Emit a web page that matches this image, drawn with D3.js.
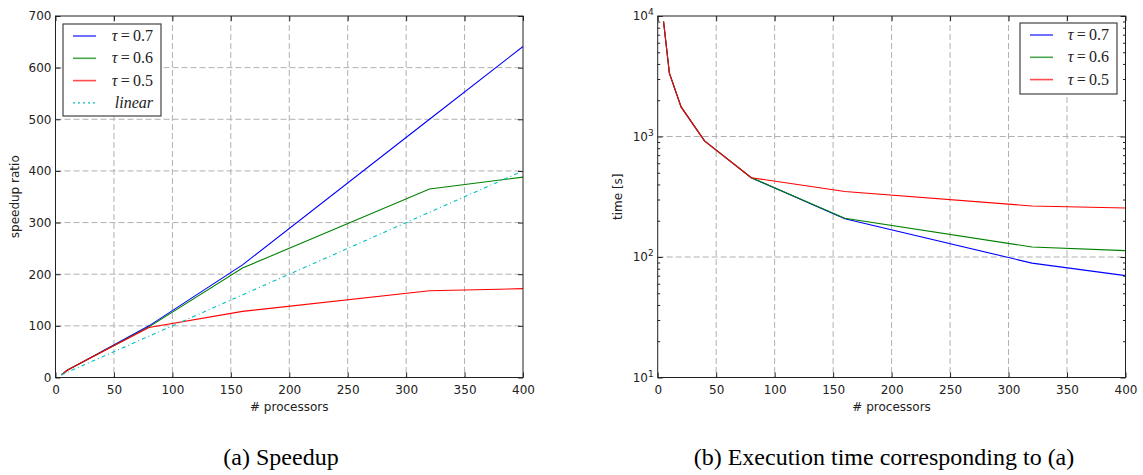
<!DOCTYPE html>
<html>
<head>
<meta charset="utf-8">
<script src="https://cdn.jsdelivr.net/npm/d3@7"></script>
<style>
  body { margin: 0; background: #fff; }
  svg { display: block; }
  .tick text { font-family: "DejaVu Sans", sans-serif; font-size: 12px; fill: #222; }
  .tick line { stroke: #222; }
  .domain { display: none; }
</style>
</head>
<body>
<div id="chart"></div>
<script>
// processor counts used in the runs
const procs = [5, 10, 20, 40, 80, 160, 320, 400];

// (a) speedup ratio per tau
const speedup07 = [5, 14, 26, 51, 100, 218, 500, 641];
const speedup06 = [5, 14, 26, 50, 98, 212, 365, 388];
const speedup05 = [5, 14, 26, 50, 97, 128, 168, 172];
const linearProcs = [5, 400];

// (b) execution time [s] per tau
const time07 = [9000, 3350, 1760, 920, 455, 208, 89, 70];
const time06 = [9000, 3350, 1760, 920, 455, 210, 121, 113];
const time05 = [9000, 3350, 1760, 920, 455, 350, 265, 255];

const xTicks = [0, 50, 100, 150, 200, 250, 300, 350, 400];
const speedTicks = [0, 100, 200, 300, 400, 500, 600, 700];
const timeTicks = [10, 100, 1000, 10000];

const series = [
  { label: 'τ', val: '0.7', color: '#0000ff', speed: speedup07, time: time07 },
  { label: 'τ', val: '0.6', color: '#008000', speed: speedup06, time: time06 },
  { label: 'τ', val: '0.5', color: '#ff0000', speed: speedup05, time: time05 }
];

const W = 1143, H = 475;
const plotTop = 16, plotBottom = 377.5;

const svg = d3.select('#chart').append('svg')
  .attr('width', W)
  .attr('height', H);

svg.append('rect').attr('width', W).attr('height', H).attr('fill', '#fff');

/**
 * Draw one panel: grid, lines, inward ticks on all four sides, frame
 */
function drawPanel(opts) {
  const { x, y, yTicks, minor, logFmt } = opts;
  const [x0, x1] = x.range();
  const g = svg.append('g');

  // grid
  g.append('g').selectAll('line')
    .data(xTicks.filter(t => t > 0 && t < 400))
    .join('line')
    .attr('x1', d => x(d)).attr('x2', d => x(d))
    .attr('y1', plotTop).attr('y2', plotBottom)
    .attr('stroke', '#b0b0b0').attr('stroke-dasharray', '6,3');
  g.append('g').selectAll('line')
    .data(yTicks.slice(1, -1))
    .join('line')
    .attr('x1', x0).attr('x2', x1)
    .attr('y1', d => y(d)).attr('y2', d => y(d))
    .attr('stroke', '#b0b0b0').attr('stroke-dasharray', '6,3');

  // lines
  const line = d3.line().x(d => x(d[0])).y(d => y(d[1]));
  opts.lines.forEach(l => {
    g.append('path')
      .attr('d', line(l.pts))
      .attr('fill', 'none')
      .attr('stroke', l.color)
      .attr('stroke-width', 1.1)
      .attr('stroke-dasharray', l.dash || null);
  });

  // axes with inward ticks
  g.append('g').attr('transform', `translate(0,${plotBottom})`)
    .call(d3.axisBottom(x).tickValues(xTicks).tickSizeInner(-5).tickSizeOuter(0).tickPadding(8));
  g.append('g').attr('transform', `translate(0,${plotTop})`)
    .call(d3.axisTop(x).tickValues(xTicks).tickSizeInner(-5).tickSizeOuter(0).tickFormat(''));

  const yl = g.append('g').attr('transform', `translate(${x0},0)`)
    .call(d3.axisLeft(y).tickValues(yTicks).tickSizeInner(-5).tickSizeOuter(0).tickPadding(4)
      .tickFormat(logFmt ? () => '' : d3.format('d')));
  g.append('g').attr('transform', `translate(${x1},0)`)
    .call(d3.axisRight(y).tickValues(yTicks).tickSizeInner(-5).tickSizeOuter(0).tickFormat(''));

  if (logFmt) {
    yl.selectAll('.tick text').each(function(d) {
      const t = d3.select(this).text('10');
      t.append('tspan').attr('dy', '-0.55em').style('font-size', '9px').text(Math.round(Math.log10(d)));
    });
  }

  if (minor) {
    g.append('g').attr('transform', `translate(${x0},0)`)
      .call(d3.axisLeft(y).tickValues(minor).tickSizeInner(-2.5).tickSizeOuter(0).tickFormat(''));
    g.append('g').attr('transform', `translate(${x1},0)`)
      .call(d3.axisRight(y).tickValues(minor).tickSizeInner(-2.5).tickSizeOuter(0).tickFormat(''));
  }

  // frame
  g.append('rect')
    .attr('x', x0).attr('y', plotTop)
    .attr('width', x1 - x0).attr('height', plotBottom - plotTop)
    .attr('fill', 'none').attr('stroke', '#222').attr('stroke-width', 1);

  // axis labels
  g.append('text')
    .attr('x', (x0 + x1) / 2).attr('y', 411)
    .attr('text-anchor', 'middle')
    .style('font-family', '"DejaVu Sans", sans-serif').style('font-size', '12px').style('fill', '#222')
    .text('# processors');
  g.append('text')
    .attr('transform', `translate(${opts.ylabelX},${(plotTop + plotBottom) / 2}) rotate(-90)`)
    .attr('text-anchor', 'middle')
    .style('font-family', '"DejaVu Sans", sans-serif').style('font-size', '12px').style('fill', '#222')
    .text(opts.ylabel);

  // legend
  const lg = g.append('g');
  lg.append('rect')
    .attr('x', opts.legend.x).attr('y', opts.legend.y)
    .attr('width', opts.legend.w).attr('height', opts.legend.h)
    .attr('fill', '#fff').attr('stroke', '#444').attr('stroke-width', 1.2);
  opts.legend.items.forEach((it, i) => {
    const cy = opts.legend.y + 12 + i * 22.3;
    lg.append('line')
      .attr('x1', opts.legend.x + 10).attr('x2', opts.legend.x + 33)
      .attr('y1', cy).attr('y2', cy)
      .attr('stroke', it.color).attr('stroke-width', it.dash ? 1.3 : 1.6)
      .attr('stroke-dasharray', it.dash || null)
      .attr('opacity', it.dash ? 1 : 0.7);
    const t = lg.append('text')
      .attr('x', opts.legend.x + opts.legend.w - 8).attr('y', cy + 5)
      .attr('text-anchor', 'end')
      .style('font-family', '"Liberation Serif", serif').style('font-size', '16px').style('fill', '#222');
    if (it.val) {
      t.append('tspan').style('font-style', 'italic').text(it.label);
      t.append('tspan').text('\u2009=\u2009' + it.val);
    } else {
      t.append('tspan').style('font-style', 'italic').text(it.label);
    }
  });
}

// (a) speedup
const xa = d3.scaleLinear().domain([0, 400]).range([55.5, 523]);
const ya = d3.scaleLinear().domain([0, 700]).range([plotBottom, plotTop]);

drawPanel({
  x: xa, y: ya, yTicks: speedTicks,
  ylabel: 'speedup ratio', ylabelX: 19,
  lines: [
    ...series.map(s => ({ color: s.color, pts: procs.map((p, i) => [p, s.speed[i]]) })),
    { color: '#00bfbf', dash: '4,3,1,3', pts: linearProcs.map(p => [p, p]) }
  ],
  legend: {
    x: 63, y: 24, w: 98, h: 92,
    items: [
      ...series.map(s => ({ label: s.label, val: s.val, color: s.color })),
      { label: 'linear', color: '#00bfbf', dash: '2,3' }
    ]
  }
});

// (b) execution time
const xbScale = d3.scaleLinear().domain([0, 400]).range([657.7, 1125.5]);
const yb = d3.scaleLog().domain([10, 10000]).range([plotBottom, plotTop]);
const minorTicks = [];
[10, 100, 1000].forEach(b => { for (let k = 2; k <= 9; k++) minorTicks.push(b * k); });

drawPanel({
  x: xbScale, y: yb, yTicks: timeTicks, minor: minorTicks, logFmt: true,
  ylabel: 'time [s]', ylabelX: 622,
  lines: series.map(s => ({ color: s.color, pts: procs.map((p, i) => [p, s.time[i]]) })),
  legend: {
    x: 1020, y: 23, w: 97, h: 71,
    items: series.map(s => ({ label: s.label, val: s.val, color: s.color }))
  }
});

// captions
svg.append('text')
  .attr('x', 281).attr('y', 465).attr('text-anchor', 'middle')
  .style('font-family', '"Liberation Serif", serif').style('font-size', '24px').style('fill', '#000')
  .text('(a) Speedup');
svg.append('text')
  .attr('x', 884).attr('y', 465).attr('text-anchor', 'middle')
  .style('font-family', '"Liberation Serif", serif').style('font-size', '24px').style('fill', '#000')
  .text('(b) Execution time corresponding to (a)');
</script>
</body>
</html>
